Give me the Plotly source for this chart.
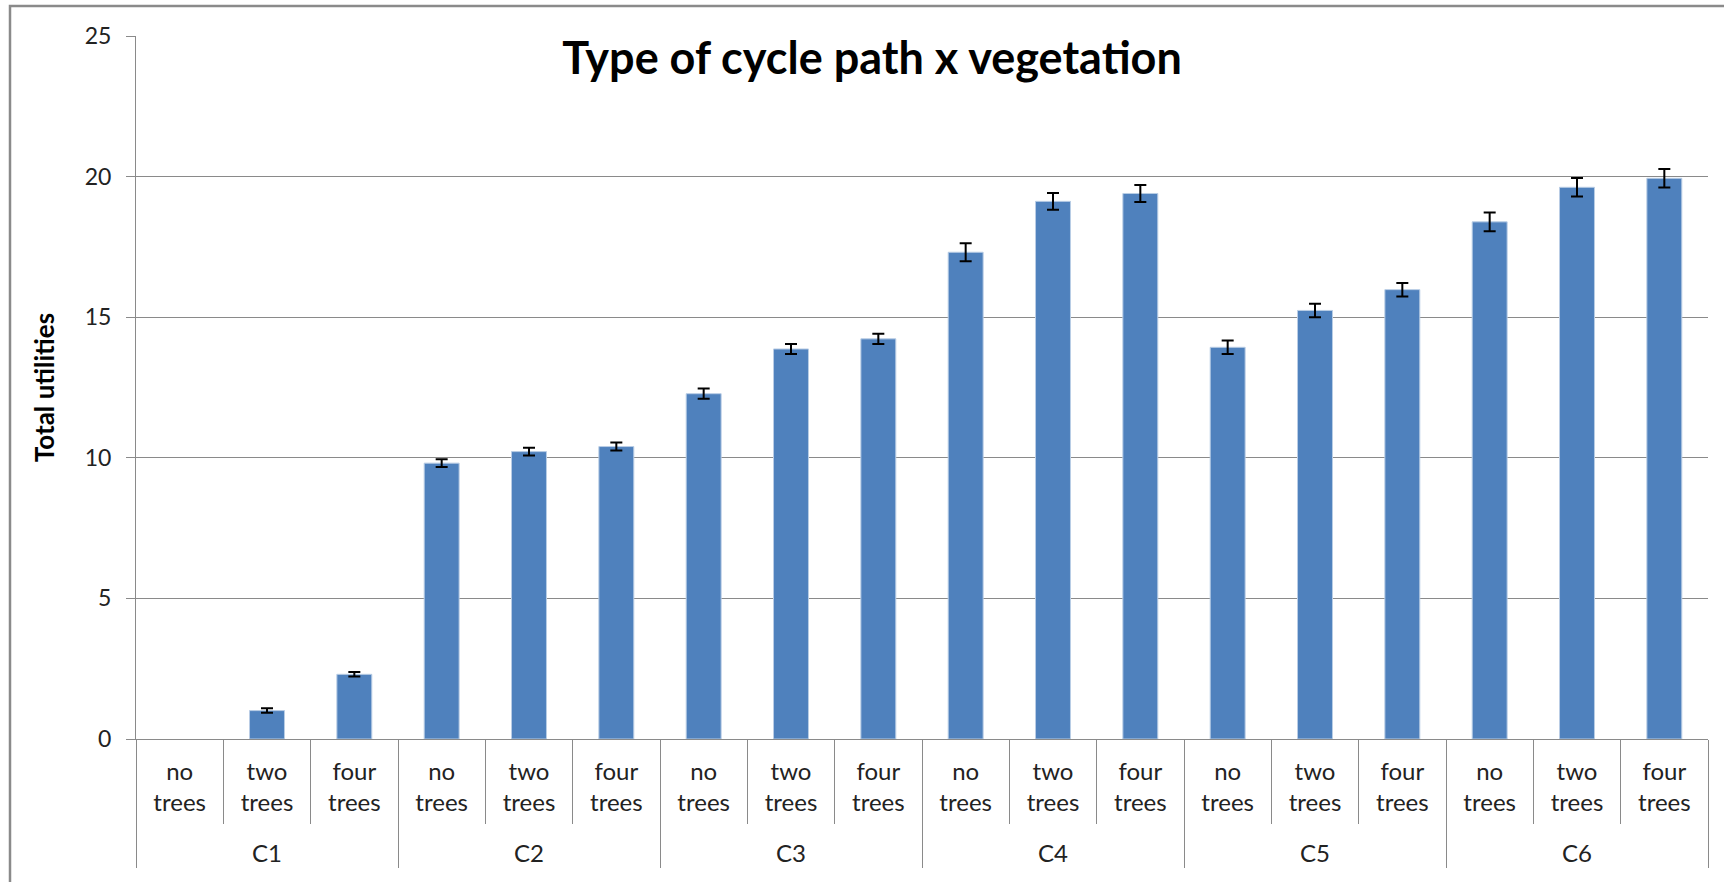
import plotly.graph_objects as go

# ---- data ----
groups = ["C1", "C2", "C3", "C4", "C5", "C6"]
vegetation = ["no<br>trees", "two<br>trees", "four<br>trees"]
values_c1 = [None, 1.01, 2.30]      # no bar drawn for the reference level
values_c2 = [9.81, 10.22, 10.40]
values_c3 = [12.28, 13.87, 14.23]
values_c4 = [17.31, 19.12, 19.40]
values_c5 = [13.93, 15.24, 15.98]
values_c6 = [18.39, 19.62, 19.94]
err_c1 = [None, 0.08, 0.08]
err_c2 = [0.14, 0.14, 0.14]
err_c3 = [0.18, 0.18, 0.18]
err_c4 = [0.32, 0.30, 0.30]
err_c5 = [0.24, 0.24, 0.24]
err_c6 = [0.33, 0.33, 0.33]
y_ticks = [0, 5, 10, 15, 20, 25]

values = [values_c1, values_c2, values_c3, values_c4, values_c5, values_c6]
errors = [err_c1, err_c2, err_c3, err_c4, err_c5, err_c6]

x_outer, x_inner, y_all, e_all = [], [], [], []
for g, vals, errs in zip(groups, values, errors):
    for v, val, er in zip(vegetation, vals, errs):
        # blank first line drops the group label below the vegetation labels
        x_outer.append(" <br>" + g)
        x_inner.append(v)
        y_all.append(val)
        e_all.append(er)

W, H = 1724, 882
L, R, T, B = 136, 16, 36, 143
pw, ph = W - L - R, H - T - B

FONT = "Lato"
GRAY = "#8a8a8a"

fig = go.Figure()
fig.add_trace(go.Bar(
    x=[x_outer, x_inner],
    y=y_all,
    marker=dict(color="#4F81BD", line=dict(color="#B9CDE5", width=1)),
    error_y=dict(type="data", array=e_all, visible=True,
                 color="black", thickness=2, width=6),
    width=0.4,
))

fig.update_layout(
    width=W, height=H,
    margin=dict(l=L, r=R, t=T, b=B, autoexpand=False),
    paper_bgcolor="white", plot_bgcolor="white",
    showlegend=False,
    font=dict(family=FONT, color="#222222"),
    title=dict(text="<b>Type of cycle path x vegetation</b>",
               font=dict(family=FONT, size=45, color="black"),
               x=(872 - L) / pw, xref="paper", xanchor="center",
               y=1 - 58 / H, yanchor="middle"),
    bargap=0.6,
)

fig.update_yaxes(
    range=[0, 25], tickvals=y_ticks,
    showgrid=True, gridcolor=GRAY, gridwidth=1,
    showline=True, linecolor=GRAY, linewidth=1,
    ticks="outside", ticklen=9, tickcolor=GRAY,
    tickfont=dict(family=FONT, size=23, color="#222222"),
    ticklabelstandoff=10,
    zeroline=False,
    title=dict(text="<b>Total utilities</b>", font=dict(family=FONT, size=26, color="black"),
               standoff=22),
)

fig.update_xaxes(
    type="multicategory",
    showline=True, linecolor=GRAY, linewidth=1,
    ticks="outside", tickson="boundaries", ticklen=84, tickcolor=GRAY,
    showdividers=True, dividercolor=GRAY, dividerwidth=1,
    tickfont=dict(family=FONT, size=24, color="#222222"),
    ticklabelstandoff=11,
    showgrid=False,
)

# outer chart border (extends past the right/bottom of the picture like the reference)
fig.add_shape(type="rect", xref="paper", yref="paper",
              x0=(10 - L) / pw, x1=1.2, y0=-0.5, y1=(H - B - 6) / ph,
              line=dict(color=GRAY, width=2.5), fillcolor="rgba(0,0,0,0)", layer="below")

fig.write_html("out.html", config={"displayModeBar": False},
               post_script="document.body.style.margin='0';")
